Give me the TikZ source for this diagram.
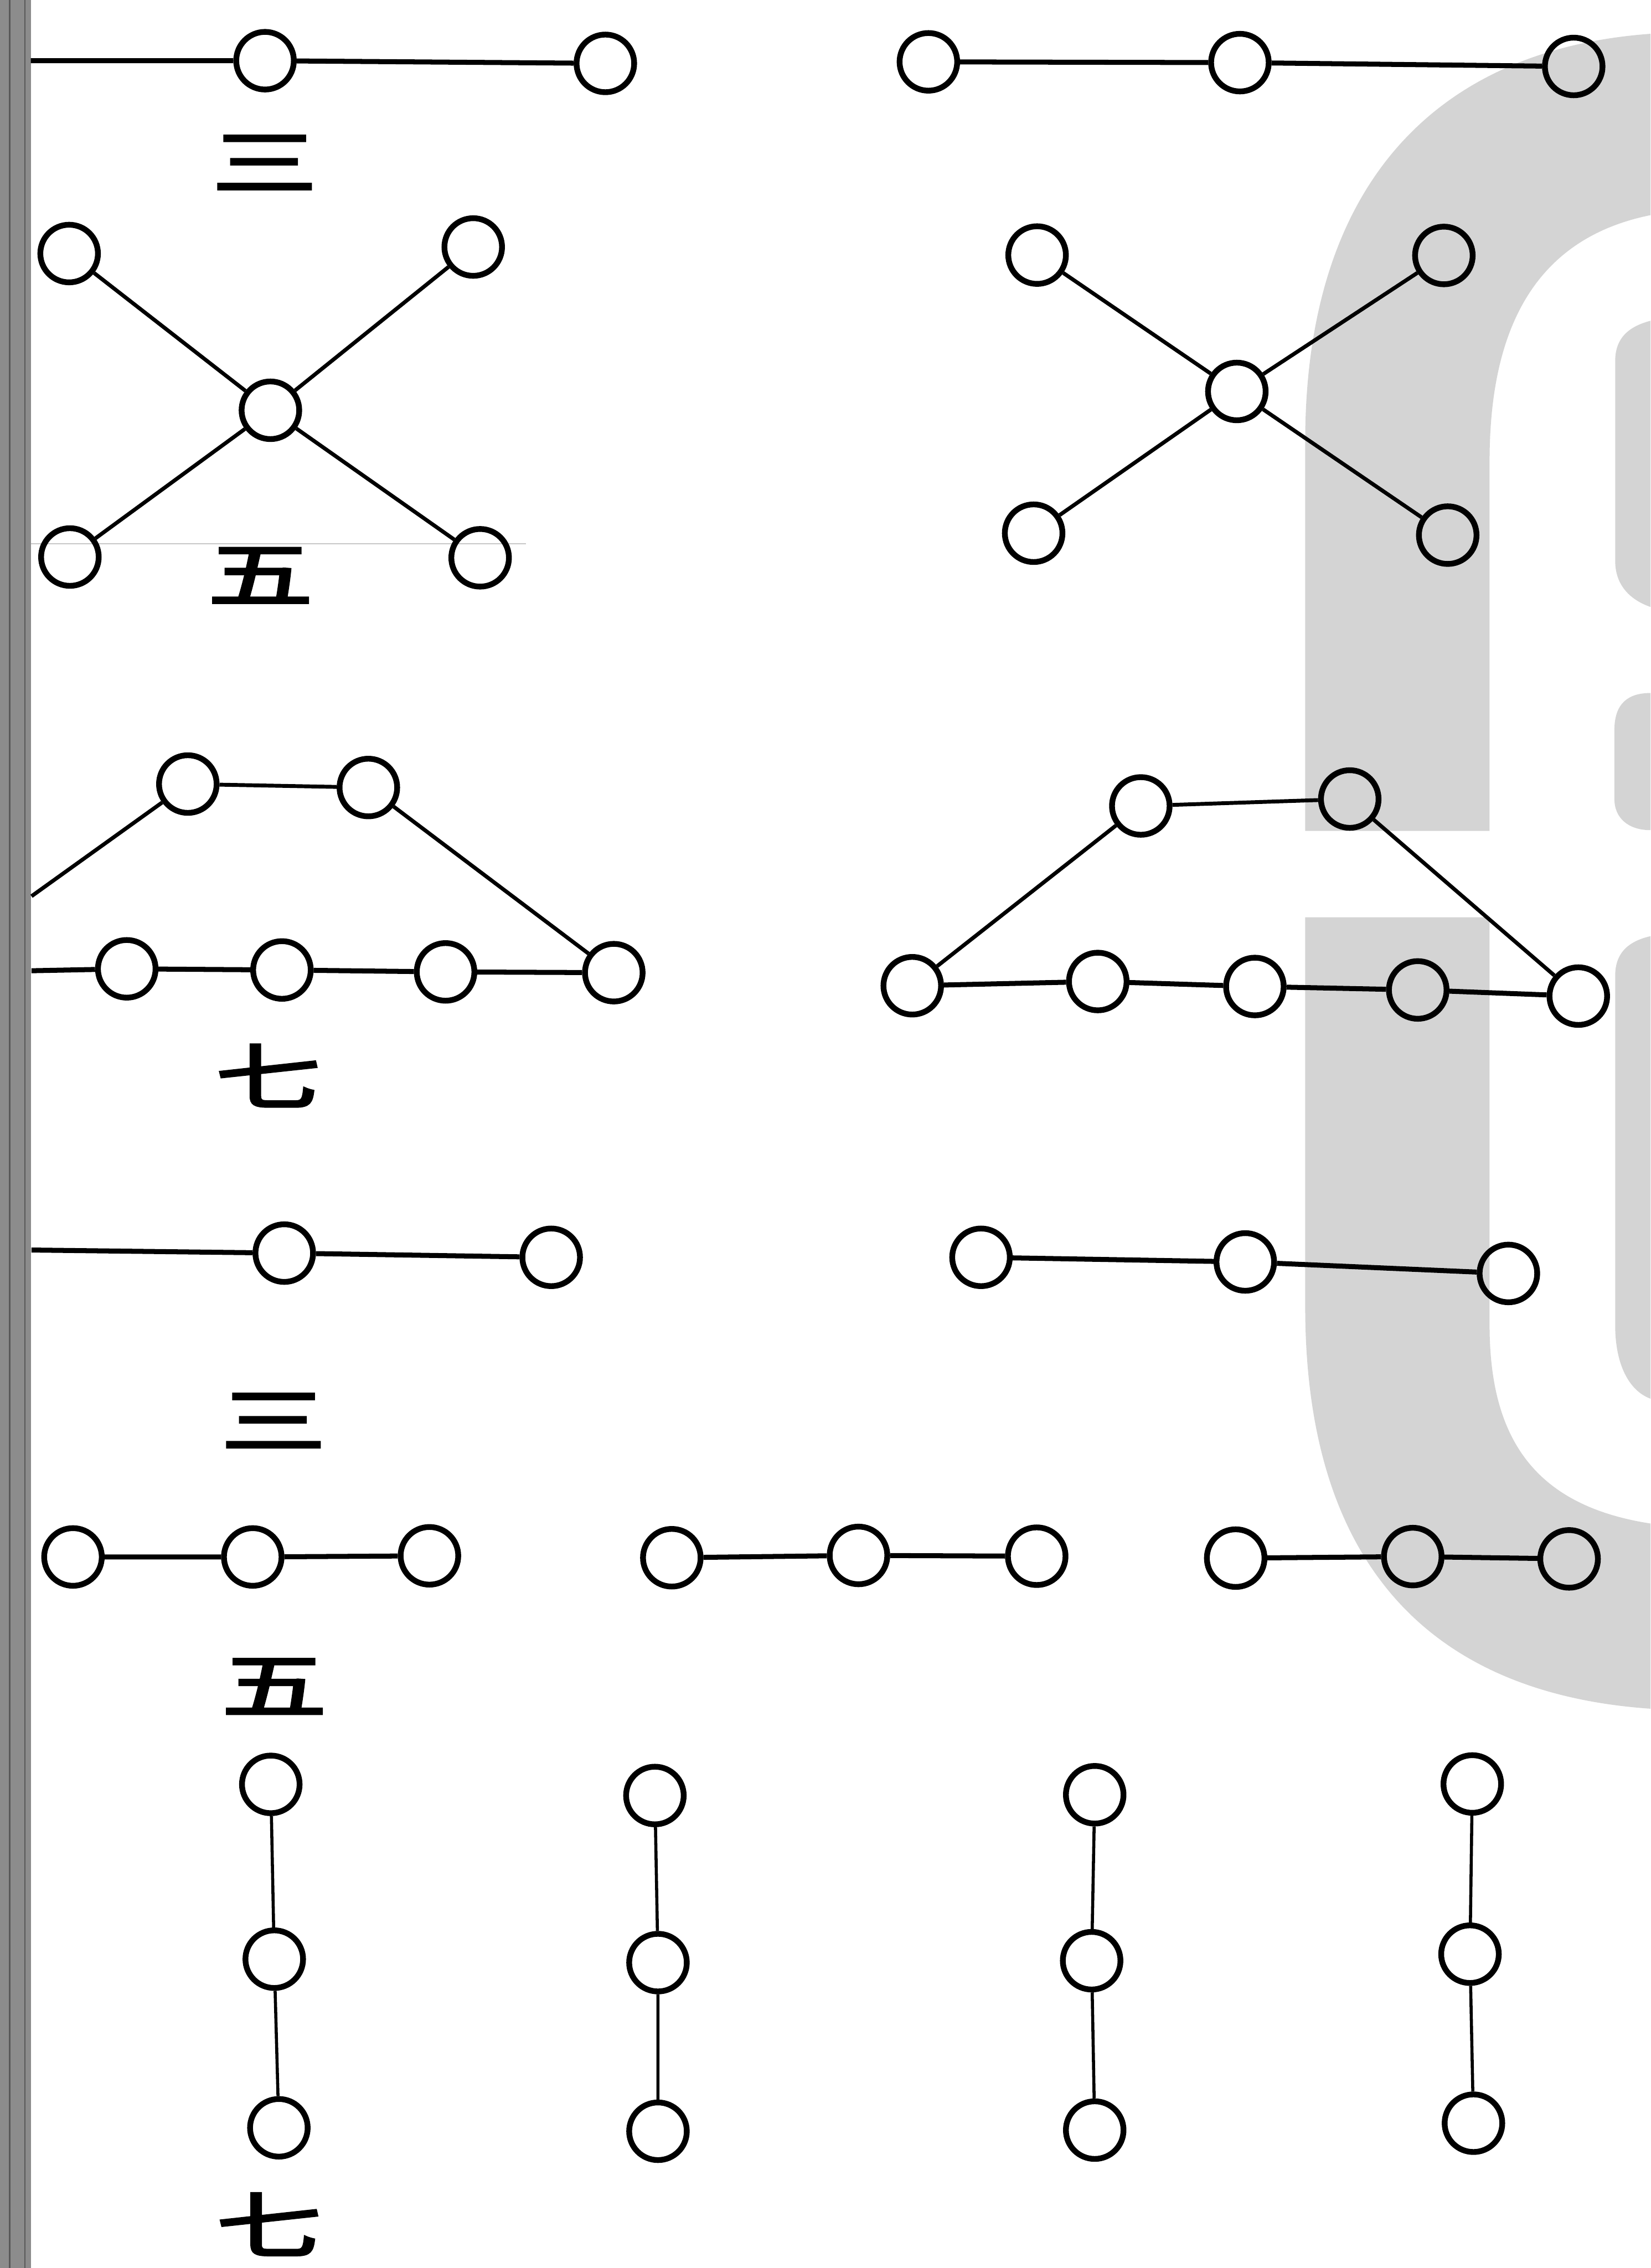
\documentclass[tikz,border=0pt]{standalone}
\usepackage{fontspec}
\usepackage{graphicx}
\usepackage{tikz}
\newfontfamily\cjk{Noto Sans CJK SC}[FakeBold=3]
\newcommand{\flatch}[1]{\scalebox{1}[0.68]{#1}}
\tikzset{
  pt/.style   = {draw, circle, minimum size=15mm, inner sep=0pt, line width=1.5mm},
  ln/.style   = {line width=1.3mm},
  thn/.style  = {line width=1.0mm},
  vln/.style  = {line width=0.8mm},
  num/.style  = {font=\cjk\fontsize{78pt}{78pt}\selectfont, inner sep=0pt},
  wm/.style   = {fill=black!17},
  spine/.style= {fill=black!45},
}

\begin{document}
\begin{tikzpicture}[x=1mm, y=-1mm]
\useasboundingbox (0,0) rectangle (429.7,590.4);
\fill[white] (0,0) rectangle (429.7,590.4);
\fill[wm] (429.7,8.8) .. controls (372,13) and (339.8,50) .. (339.8,115)
  -- (339.8,216.3) -- (387.8,216.3) -- (387.8,120)
  .. controls (387.8,85) and (400,62) .. (429.7,56) -- cycle;
\fill[wm] (339.8,238.8) -- (339.8,340)
  .. controls (339.8,410) and (375,441) .. (429.7,444.8) -- (429.7,396.6)
  .. controls (400,392) and (387.8,375) .. (387.8,345) -- (387.8,238.8) -- cycle;
\fill[wm] (429.7,83.5) .. controls (424,85) and (420.5,88) .. (420.5,94)
  -- (420.5,146) .. controls (420.5,152) and (424,156) .. (429.7,158) -- cycle;
\fill[wm] (429.7,180.4) .. controls (424,180.4) and (420.3,183) .. (420.3,190)
  -- (420.3,208) .. controls (420.3,213) and (424,216.1) .. (429.7,216.1) -- cycle;
\fill[wm] (429.7,243.7) .. controls (424,245) and (420.5,248) .. (420.5,254)
  -- (420.5,345) .. controls (420.5,355) and (424,362) .. (429.7,364.1) -- cycle;
\fill[spine] (0,0) rectangle (8,590.4);
\draw[black!65, line width=0.5mm] (2.5,0) -- (2.5,590.4);
\draw[black!65, line width=0.4mm] (6.5,0) -- (6.5,590.4);
\draw[black!22, line width=0.3mm] (8,141.6) -- (137,141.6);

\coordinate (r1s) at (8,15.8);
\node[pt] (r1a) at (69.0,15.8) {};
\node[pt] (r1b) at (157.6,16.5) {};
\node[pt] (r1c) at (241.7,16.1) {};
\node[pt] (r1d) at (322.8,16.3) {};
\node[pt] (r1e) at (409.7,17.3) {};
\draw[ln] (r1s) -- (r1a) -- (r1b);
\draw[ln] (r1c) -- (r1d) -- (r1e);
\node[num] (san1) at (68.9,42.3) {\flatch{三}};

\node[pt] (xa) at (18.0,66.0) {};
\node[pt] (xb) at (123.2,64.3) {};
\node[pt] (xc) at (70.4,106.8) {};
\node[pt] (xd) at (18.2,145.0) {};
\node[pt] (xe) at (125.0,145.2) {};
\draw[thn] (xa) -- (xc) -- (xe);
\draw[thn] (xb) -- (xc) -- (xd);
\node[pt] (ya) at (270.0,66.4) {};
\node[pt] (yb) at (375.9,66.5) {};
\node[pt] (yc) at (322.0,101.9) {};
\node[pt] (yd) at (269.1,138.8) {};
\node[pt] (ye) at (376.9,139.3) {};
\draw[thn] (ya) -- (yc) -- (ye);
\draw[thn] (yb) -- (yc) -- (yd);
\node[num] (wu1) at (67.8,149.8) {\flatch{五}};

\coordinate (s3a) at (8.2,233.3);
\coordinate (s3b) at (8.2,252.7);
\node[pt] (ta) at (48.9,204.1) {};
\node[pt] (tb) at (95.9,205.0) {};
\node[pt] (ba) at (33.0,252.2) {};
\node[pt] (bb) at (73.4,252.5) {};
\node[pt] (bc) at (116.0,253.0) {};
\node[pt] (bd) at (159.8,253.2) {};
\draw[thn] (s3a) -- (ta) -- (tb) -- (bd);
\draw[ln] (s3b) -- (ba) -- (bb) -- (bc) -- (bd);
\node[pt] (ua) at (297.0,209.8) {};
\node[pt] (ub) at (351.4,208.0) {};
\node[pt] (ca) at (237.5,256.6) {};
\node[pt] (cb) at (285.8,255.5) {};
\node[pt] (cc) at (326.7,256.8) {};
\node[pt] (cd) at (369.1,257.7) {};
\node[pt] (ce) at (410.9,259.3) {};
\draw[thn] (ca) -- (ua) -- (ub) -- (ce);
\draw[ln] (ca) -- (cb) -- (cc) -- (cd) -- (ce);
\node[num] (qi1) at (69.8,280.0) {\flatch{七}};

\coordinate (s4) at (8.2,325.4);
\node[pt] (da) at (74.0,326.2) {};
\node[pt] (db) at (143.5,327.3) {};
\draw[ln] (s4) -- (da) -- (db);
\node[pt] (ea) at (255.4,327.3) {};
\node[pt] (eb) at (324.2,328.5) {};
\node[pt] (ec) at (392.7,331.5) {};
\draw[ln] (ea) -- (eb) -- (ec);
\node[num] (san2) at (71.2,369.8) {\flatch{三}};

\node[pt] (fa) at (19.0,405.3) {};
\node[pt] (fb) at (65.8,405.3) {};
\node[pt] (fc) at (111.8,405.0) {};
\draw[ln] (fa) -- (fb) -- (fc);
\node[pt] (ga) at (174.9,405.5) {};
\node[pt] (gb) at (223.5,404.9) {};
\node[pt] (gc) at (269.9,405.1) {};
\draw[ln] (ga) -- (gb) -- (gc);
\node[pt] (ha) at (321.7,405.6) {};
\node[pt] (hb) at (367.8,405.2) {};
\node[pt] (hc) at (408.5,405.8) {};
\draw[ln] (ha) -- (hb) -- (hc);
\node[num] (wu2) at (71.4,439.0) {\flatch{五}};

\node[pt] (ka) at (70.5,464.5) {};
\node[pt] (kb) at (71.4,510.0) {};
\node[pt] (kc) at (72.6,553.9) {};
\draw[vln] (ka) -- (kb) -- (kc);
\node[pt] (la) at (170.5,467.4) {};
\node[pt] (lb) at (171.3,510.9) {};
\node[pt] (lc) at (171.3,554.8) {};
\draw[vln] (la) -- (lb) -- (lc);
\node[pt] (ma) at (285.0,467.2) {};
\node[pt] (mb) at (284.2,510.4) {};
\node[pt] (mc) at (285.0,554.5) {};
\draw[vln] (ma) -- (mb) -- (mc);
\node[pt] (na) at (383.3,464.4) {};
\node[pt] (nb) at (382.7,508.7) {};
\node[pt] (nc) at (383.6,552.7) {};
\draw[vln] (na) -- (nb) -- (nc);
\node[num] (qi2) at (70.0,579.0) {\flatch{七}};
\end{tikzpicture}
\end{document}
